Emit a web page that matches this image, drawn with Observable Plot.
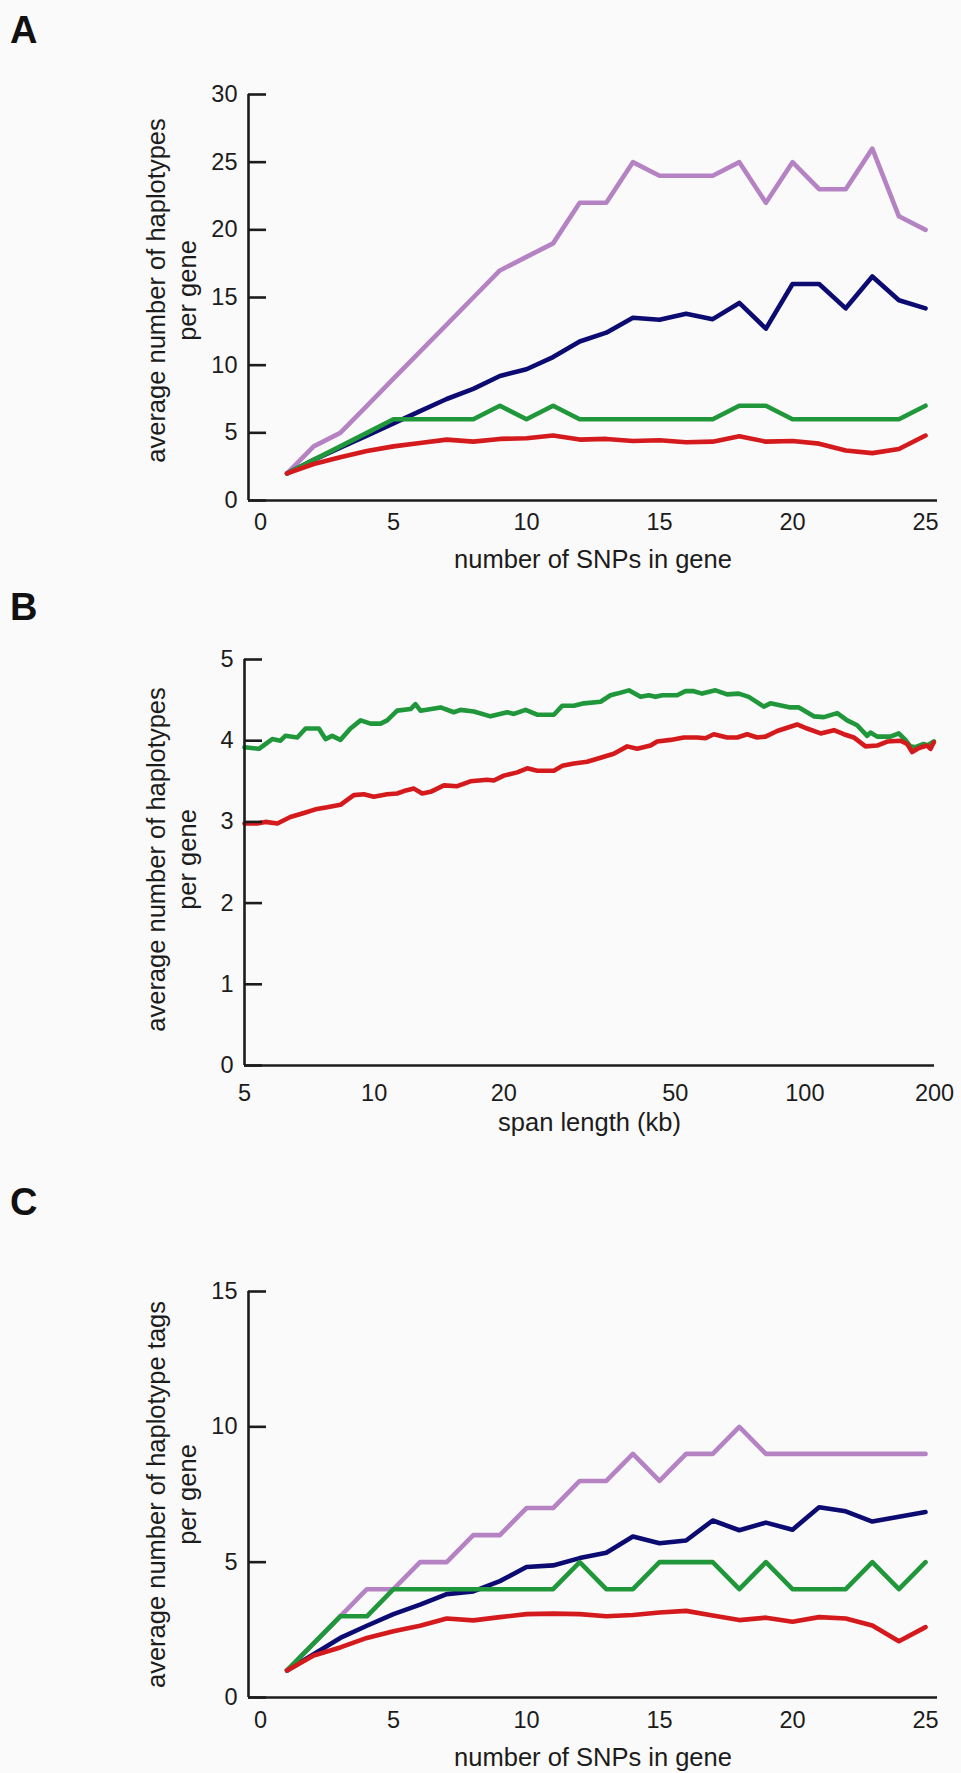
<!DOCTYPE html>
<html><head><meta charset="utf-8">
<script src="https://cdn.jsdelivr.net/npm/d3@7"></script>
<script src="https://cdn.jsdelivr.net/npm/@observablehq/plot@0.6"></script>
<style>
body{margin:0;background:#fafafa;}
#wrap{position:relative;width:961px;height:1773px;font-family:"Liberation Sans",Arial,sans-serif;color:#111;overflow:hidden;}
.panel{position:absolute;left:0;}
.letter{position:absolute;left:10px;font-weight:bold;font-size:38px;line-height:1;}
</style></head><body>
<div id="wrap">
  <div class="letter" style="top:11px">A</div>
  <div class="letter" style="top:588px">B</div>
  <div class="letter" style="top:1183px">C</div>
  <div class="panel" id="pA" style="top:0px"></div>
  <div class="panel" id="pB" style="top:590px"></div>
  <div class="panel" id="pC" style="top:1150px"></div>
</div>
<script>
// ---------- shared ----------
const seriesNames = ["series 1", "series 2", "series 3", "series 4"];
const seriesColors = ["#b583c3", "#0b0b72", "#20973b", "#d41a1c"];

// ---------- Panel A ----------
const snpsA = [1,2,3,4,5,6,7,8,9,10,11,12,13,14,15,16,17,18,19,20,21,22,23,24,25];
const A_purple = [2,4,5,7,9,11,13,15,17,18,19,22,22,25,24,24,24,25,22,25,23,23,26,21,20];
const A_blue   = [2,3.0,3.9,4.8,5.7,6.6,7.5,8.25,9.2,9.7,10.6,11.75,12.4,13.5,13.35,13.8,13.4,14.6,12.7,16.0,16.0,14.2,16.55,14.8,14.2];
const A_green  = [2,3,4,5,6,6,6,6,7,6,7,6,6,6,6,6,6,7,7,6,6,6,6,6,7];
const A_red    = [2.0,2.7,3.2,3.65,4.0,4.25,4.5,4.35,4.55,4.6,4.8,4.5,4.55,4.4,4.45,4.3,4.35,4.75,4.35,4.4,4.2,3.7,3.5,3.8,4.8];
const xTicksA = [0,5,10,15,20,25];
const yTicksA = [0,5,10,15,20,25,30];
const xDomainA = [-0.45, 25.45];
const yDomainA = [0, 30];
const yTitleA = "average number of haplotypes\nper gene";
const xTitleA = "number of SNPs in gene";

// ---------- Panel B ----------
const B_greenSpan = [5.0,5.40,5.80,6.06,6.22,6.63,6.93,7.44,7.71,7.99,8.35,8.81,9.30,9.81,10.35,10.72,11.31,12.15,12.47,12.81,14.26,15.31,15.87,17.04,18.63,20.37,21.11,22.47,23.90,26.14,27.33,29.09,30.68,33.55,35.38,36.67,39.03,41.55,43.44,45.02,46.65,50.53,52.82,55.23,57.74,62.02,66.01,70.24,74.1,80.3,83.2,92.6,96.9,104.9,110.7,118.9,125.4,132.3,139.5,142.0,147.2,158.1,165.2,171.2,175.8,180.6,188.8,192.3,199.3];
const B_greenVal  = [3.92,3.90,4.02,4.00,4.06,4.04,4.15,4.15,4.02,4.06,4.01,4.15,4.25,4.21,4.21,4.25,4.37,4.39,4.45,4.37,4.41,4.35,4.38,4.36,4.30,4.35,4.33,4.38,4.32,4.32,4.43,4.43,4.46,4.48,4.56,4.58,4.62,4.54,4.56,4.54,4.56,4.56,4.61,4.61,4.58,4.62,4.57,4.58,4.54,4.42,4.46,4.41,4.41,4.30,4.29,4.34,4.25,4.19,4.06,4.10,4.05,4.05,4.09,4.01,3.93,3.92,3.96,3.94,3.99];
const B_redSpan = [5.0,5.35,5.59,5.96,6.39,6.87,7.37,7.78,8.35,8.97,9.46,9.98,10.72,11.31,11.72,12.37,12.93,13.52,14.52,15.59,16.73,18.30,18.96,20.0,21.49,22.67,23.90,26.14,27.33,29.09,31.23,33.55,36.0,38.69,40.81,43.82,45.41,48.76,52.36,56.22,58.78,61.47,66.01,69.65,73.47,77.49,81.03,86.25,90.98,95.97,101.2,108.8,116.8,123.2,129.9,138.3,147.2,155.3,166.7,172.8,177.5,184.0,192.3,195.8,199.3];
const B_redVal  = [2.98,2.98,3.00,2.98,3.06,3.11,3.16,3.18,3.21,3.33,3.34,3.31,3.34,3.35,3.38,3.41,3.35,3.37,3.45,3.44,3.50,3.52,3.51,3.57,3.61,3.66,3.63,3.63,3.69,3.72,3.74,3.79,3.84,3.93,3.90,3.94,3.99,4.01,4.04,4.04,4.03,4.08,4.04,4.04,4.08,4.04,4.05,4.12,4.16,4.20,4.15,4.09,4.13,4.08,4.04,3.93,3.94,3.99,4.00,3.96,3.86,3.91,3.94,3.90,3.98];
const xTicksB = [5,10,20,50,100,200];
const yTicksB = [0,1,2,3,4,5];
const xDomainB = [5, 200];
const yDomainB = [0, 5];
const yTitleB = "average number of haplotypes\nper gene";
const xTitleB = "span length (kb)";

// ---------- Panel C ----------
const snpsC = [1,2,3,4,5,6,7,8,9,10,11,12,13,14,15,16,17,18,19,20,21,22,23,24,25];
const C_purple = [1,2,3,4,4,5,5,6,6,7,7,8,8,9,8,9,9,10,9,9,9,9,9,9,9];
const C_blue   = [1.0,1.6,2.2,2.65,3.08,3.43,3.82,3.92,4.3,4.82,4.88,5.15,5.35,5.95,5.7,5.8,6.54,6.18,6.46,6.2,7.03,6.88,6.5,6.68,6.85];
const C_green  = [1,2,3,3,4,4,4,4,4,4,4,5,4,4,5,5,5,4,5,4,4,4,5,4,5];
const C_red    = [1.0,1.55,1.85,2.2,2.45,2.65,2.92,2.85,2.97,3.08,3.1,3.08,3.0,3.05,3.14,3.2,3.03,2.86,2.95,2.8,2.97,2.92,2.66,2.08,2.6];
const xTicksC = [0,5,10,15,20,25];
const yTicksC = [0,5,10,15];
const xDomainC = [-0.45, 25.45];
const yDomainC = [0, 15];
const yTitleC = "average number of haplotype tags\nper gene";
const xTitleC = "number of SNPs in gene";

// ---------- helpers ----------
const FONT = "'Liberation Sans', Arial, sans-serif";
const AXIS = "#1c1c1c";
function tidy(xs, list) {
  return list.flatMap(([name, vals]) => vals.map((v, i) => ({x: xs[i], y: v, series: name})));
}
function tidyPairs(list) {
  return list.flatMap(([name, xs, vals]) => vals.map((v, i) => ({x: xs[i], y: v, series: name})));
}
function panel({data, xDomain, yDomain, xType, xTicks, yTicks, yTitle, xTitle, height, mt, mb, ml, mr, xPad, yTitleDy, xTitleDy}) {
  return Plot.plot({
    width: 961, height,
    marginTop: mt, marginBottom: mb, marginLeft: ml, marginRight: mr,
    style: {background: "transparent", fontFamily: FONT, fontSize: "23.5px", color: AXIS, overflow: "visible"},
    x: {type: xType || "linear", domain: xDomain},
    y: {domain: yDomain},
    color: {domain: seriesNames, range: seriesColors},
    marks: [
      Plot.line(data, {x: "x", y: "y", z: "series", stroke: "series", strokeWidth: 4.6, strokeLinejoin: "round", strokeLinecap: "round"}),
      Plot.ruleX([xDomain[0]], {stroke: AXIS, strokeWidth: 2.6}),
      Plot.ruleY([yDomain[0]], {stroke: AXIS, strokeWidth: 2.6}),
      Plot.axisY({ticks: yTicks, tickSize: 18, dx: 18, tickPadding: 11, stroke: AXIS, strokeWidth: 2.6, label: null, tickFormat: d => String(d)}),
      Plot.axisX({ticks: xTicks, tickSize: 0, tickPadding: xPad, label: null, tickFormat: d => String(d)}),
      Plot.text([yTitle], {text: d => d, frameAnchor: "left", textAnchor: "middle", lineAnchor: "middle", rotate: -90, dx: 170 - ml, dy: yTitleDy, fontSize: 25.5, lineHeight: 1.2, fill: AXIS}),
      Plot.text([xTitle], {text: d => d, frameAnchor: "bottom", textAnchor: "middle", lineAnchor: "middle", dy: xTitleDy, fontSize: 25.5, fill: AXIS})
    ]
  });
}

const dataA = tidy(snpsA, [["series 1", A_purple], ["series 2", A_blue], ["series 3", A_green], ["series 4", A_red]]);
const dataB = tidyPairs([["series 3", B_greenSpan, B_greenVal], ["series 4", B_redSpan, B_redVal]]);
const dataC = tidy(snpsC, [["series 1", C_purple], ["series 2", C_blue], ["series 3", C_green], ["series 4", C_red]]);

document.getElementById("pA").append(panel({
  data: dataA, xDomain: xDomainA, yDomain: yDomainA, xTicks: xTicksA, yTicks: yTicksA,
  yTitle: yTitleA, xTitle: xTitleA, height: 590, mt: 94, mb: 90, ml: 248, mr: 24, xPad: 13, yTitleDy: -7, xTitleDy: 59
}));
document.getElementById("pB").append(panel({
  data: dataB, xDomain: xDomainB, yDomain: yDomainB, xType: "log", xTicks: xTicksB, yTicks: yTicksB,
  yTitle: yTitleB, xTitle: xTitleB, height: 560, mt: 69, mb: 85, ml: 244, mr: 27, xPad: 19, yTitleDy: -3, xTitleDy: 57
}));
document.getElementById("pC").append(panel({
  data: dataC, xDomain: xDomainC, yDomain: yDomainC, xTicks: xTicksC, yTicks: yTicksC,
  yTitle: yTitleC, xTitle: xTitleC, height: 623, mt: 141, mb: 76, ml: 248, mr: 24, xPad: 14, yTitleDy: 0, xTitleDy: 60
}));
</script>
</body></html>
